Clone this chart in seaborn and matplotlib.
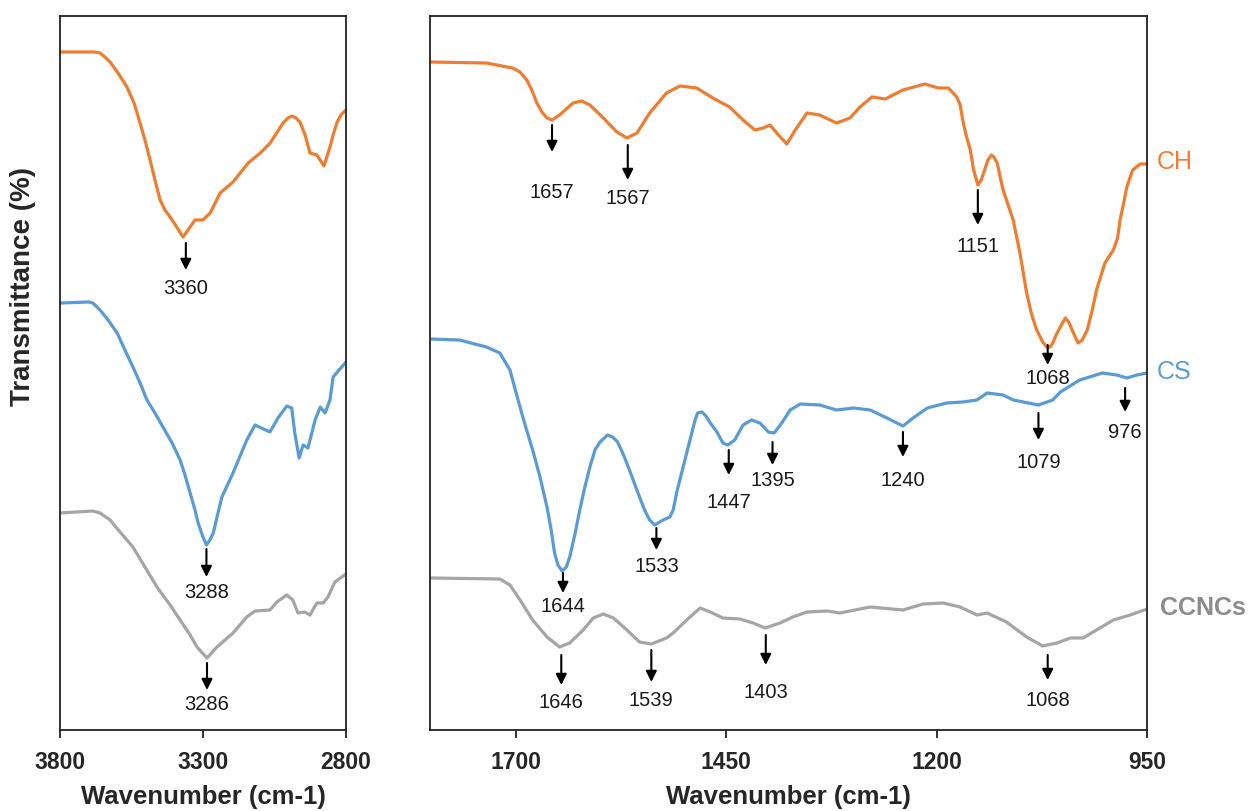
import numpy as np
import pandas as pd
import matplotlib
matplotlib.use("Agg")
import matplotlib.pyplot as plt
import seaborn as sns

# ---------------- data ----------------
# Left panel (O-H / N-H region): wavenumber (cm-1) and transmittance (a.u., stacked offsets)
ch_hi_wn = [3800, 3678, 3660, 3643, 3625, 3597, 3566, 3541, 3520, 3503, 3485, 3468, 3450, 3433,
            3415, 3392, 3370, 3345, 3328, 3300, 3275, 3240, 3195, 3142, 3100, 3065, 3020, 3003,
            2989, 2975, 2961, 2943, 2926, 2902, 2877, 2856, 2845, 2832, 2818, 2800]
ch_hi_t = [678, 678, 677, 673, 668, 657, 643, 627, 607, 590, 570, 550, 530, 520,
           513, 503, 493, 503, 510, 510, 517, 537, 548, 567, 577, 587, 607, 612,
           614, 612, 608, 595, 577, 575, 564, 583, 595, 607, 615, 620]

cs_hi_wn = [3800, 3700, 3685, 3660, 3632, 3600, 3573, 3545, 3520, 3496, 3468, 3440, 3408, 3380,
            3363, 3345, 3328, 3317, 3300, 3288, 3276, 3264, 3251, 3234, 3195, 3147, 3118, 3066,
            3038, 3007, 2990, 2979, 2964, 2950, 2933, 2908, 2890, 2873, 2856, 2845, 2800]
cs_hi_t = [427, 428, 427, 420, 410, 397, 380, 363, 347, 330, 317, 303, 287, 270,
           255, 237, 220, 207, 193, 185, 190, 197, 213, 233, 257, 290, 305, 298,
           312, 324, 322, 297, 272, 285, 282, 310, 323, 317, 330, 353, 368]

cc_hi_wn = [3800, 3685, 3660, 3625, 3590, 3545, 3503, 3461, 3415, 3380, 3345, 3321, 3286, 3251,
            3195, 3147, 3118, 3066, 3042, 3007, 2986, 2968, 2944, 2926, 2902, 2880, 2863, 2839, 2800]
cc_hi_t = [217, 219, 217, 210, 198, 183, 163, 143, 125, 110, 95, 83, 72, 83,
           97, 113, 119, 120, 128, 135, 130, 117, 118, 115, 127, 127, 133, 148, 156]

# Right panel (fingerprint region)
ch_lo_wn = [1802, 1735, 1704, 1695, 1687, 1681, 1675, 1669, 1663, 1657, 1648, 1632, 1622, 1612,
            1596, 1580, 1568, 1556, 1541, 1521, 1505, 1485, 1466, 1446, 1430, 1416, 1406, 1398,
            1388, 1378, 1368, 1354, 1339, 1319, 1303, 1291, 1277, 1261, 1240, 1214, 1198, 1186,
            1176, 1172, 1169, 1165, 1160, 1156, 1151, 1147, 1143, 1139, 1135, 1132, 1128, 1125,
            1121, 1115, 1109, 1101, 1093, 1087, 1081, 1074, 1069, 1065, 1062, 1058, 1053, 1047,
            1043, 1039, 1032, 1027, 1021, 1015, 1010, 1000, 990, 985, 982, 977, 974, 967, 958, 950]
ch_lo_t = [668, 667, 662, 658, 650, 640, 627, 618, 612, 610, 615, 627, 629, 625,
           612, 598, 592, 597, 617, 637, 644, 642, 632, 623, 610, 600, 602, 605,
           595, 586, 600, 617, 615, 607, 612, 623, 633, 631, 640, 646, 642, 642,
           633, 625, 610, 595, 580, 560, 545, 550, 560, 570, 575, 573, 567, 555,
           540, 525, 510, 477, 437, 415, 400, 388, 383, 383, 387, 395, 403, 412,
           408, 400, 387, 390, 400, 420, 440, 467, 480, 492, 510, 530, 543, 560, 566, 566]

cs_lo_wn = [1802, 1767, 1735, 1719, 1707, 1698, 1689, 1680, 1671, 1663, 1658, 1654, 1650, 1645,
            1640, 1636, 1630, 1624, 1618, 1612, 1606, 1600, 1591, 1585, 1579, 1572, 1565, 1553,
            1547, 1541, 1535, 1525, 1517, 1513, 1509, 1503, 1497, 1487, 1484, 1479, 1474, 1469,
            1461, 1454, 1448, 1440, 1430, 1420, 1410, 1400, 1393, 1384, 1374, 1362, 1339, 1319,
            1299, 1279, 1259, 1240, 1228, 1211, 1188, 1169, 1152, 1140, 1121, 1109, 1079, 1062,
            1053, 1030, 1003, 986, 974, 962, 950]
cs_lo_t = [391, 390, 383, 377, 360, 332, 305, 280, 252, 223, 200, 177, 165, 159,
           163, 173, 195, 220, 243, 263, 280, 288, 295, 293, 288, 275, 260, 233,
           220, 210, 205, 210, 213, 220, 237, 257, 277, 310, 317, 318, 314, 307,
           298, 287, 285, 290, 305, 310, 307, 298, 297, 307, 320, 326, 325, 320,
           322, 320, 312, 304, 312, 322, 327, 328, 330, 337, 335, 330, 325, 330,
           338, 350, 357, 355, 352, 355, 357]

cc_lo_wn = [1802, 1719, 1707, 1695, 1680, 1663, 1648, 1636, 1620, 1608, 1596, 1584, 1568, 1553,
            1539, 1521, 1513, 1497, 1481, 1469, 1454, 1434, 1418, 1404, 1386, 1371, 1354, 1330,
            1315, 1279, 1240, 1216, 1192, 1172, 1152, 1140, 1117, 1093, 1074, 1057, 1041, 1026,
            1010, 990, 970, 950]
cc_lo_t = [152, 151, 145, 130, 110, 93, 83, 87, 100, 112, 116, 112, 100, 88,
           86, 92, 97, 110, 122, 118, 112, 111, 107, 102, 107, 113, 118, 119,
           117, 123, 120, 126, 127, 123, 115, 117, 108, 93, 84, 87, 92, 92,
           100, 110, 115, 121]

samples = ["CH", "CS", "CCNCs"]
colors = ["#ED7D31", "#5B9BD5", "#A5A5A5"]

# Peak annotations: panel, wavenumber label, arrow top, arrow bottom, label centre (data units)
peak_panel = ["hi", "hi", "hi",
              "lo", "lo", "lo", "lo",
              "lo", "lo", "lo", "lo", "lo", "lo", "lo",
              "lo", "lo", "lo", "lo"]
peak_wn = [3360, 3288, 3286,
           1657, 1567, 1151, 1068,
           1644, 1533, 1447, 1395, 1240, 1079, 976,
           1646, 1539, 1403, 1068]
peak_top = [487, 181, 67,
            605, 585, 540, 385,
            157, 202, 280, 288, 298, 317, 342,
            75, 80, 95, 75]
peak_bot = [460, 153, 40,
            578, 550, 505, 365,
            137, 180, 255, 265, 273, 290, 318,
            45, 48, 65, 50]
peak_lab = [442, 137, 25,
            538, 532, 483, 352,
            123, 163, 228, 250, 250, 268, 298,
            28, 30, 37, 30]

hi_ticks = [3800, 3300, 2800]
lo_ticks = [1700, 1450, 1200, 950]

# ---------------- build tables ----------------
def long_df(parts):
    frames = []
    for name, wn, t in parts:
        frames.append(pd.DataFrame({"wn": wn, "T": t, "sample": name}))
    return pd.concat(frames, ignore_index=True)

df_hi = long_df([("CH", ch_hi_wn, ch_hi_t), ("CS", cs_hi_wn, cs_hi_t), ("CCNCs", cc_hi_wn, cc_hi_t)])
df_lo = long_df([("CH", ch_lo_wn, ch_lo_t), ("CS", cs_lo_wn, cs_lo_t), ("CCNCs", cc_lo_wn, cc_lo_t)])

# ---------------- figure ----------------
sns.set_style("white")
plt.rcParams["font.family"] = ["Liberation Sans", "DejaVu Sans"]

W, H = 1252, 811
fig = plt.figure(figsize=(W / 100, H / 100), dpi=100)

def px_axes(x0, y0, x1, y1):
    return fig.add_axes([x0 / W, 1 - y1 / H, (x1 - x0) / W, (y1 - y0) / H])

ax1 = px_axes(60, 16, 346, 730)
ax2 = px_axes(430, 16, 1147, 730)

pal = dict(zip(samples, colors))
for ax, df in [(ax1, df_hi), (ax2, df_lo)]:
    sns.lineplot(data=df, x="wn", y="T", hue="sample", palette=pal, hue_order=samples,
                 estimator=None, linewidth=2.3, legend=False, ax=ax)
    for ln in ax.get_lines():
        ln.set_solid_joinstyle("round")
        ln.set_solid_capstyle("round")

ax1.set_xlim(3800, 2800)
ax2.set_xlim(1802, 950)
for ax, ticks in [(ax1, hi_ticks), (ax2, lo_ticks)]:
    ax.set_ylim(0, 714)
    ax.set_yticks([])
    ax.set_xticks(ticks)
    ax.set_xticklabels([str(t) for t in ticks], fontsize=16.5, fontweight="bold")
    ax.tick_params(axis="x", direction="out", length=6, width=1.3, color="#222222", pad=9,
                   bottom=True)
    for s in ax.spines.values():
        s.set_visible(True)
        s.set_color("#222222")
        s.set_linewidth(1.3)
    ax.set_xlabel("Wavenumber (cm-1)", fontsize=18.5, fontweight="bold", labelpad=8)
    ax.set_ylabel("")

# peak arrows and labels
for panel, wn, top, bot, lab in zip(peak_panel, peak_wn, peak_top, peak_bot, peak_lab):
    ax = ax1 if panel == "hi" else ax2
    ax.annotate("", xy=(wn, bot), xytext=(wn, top),
                arrowprops=dict(arrowstyle="-|>", color="black", lw=1.5,
                                mutation_scale=16, shrinkA=0, shrinkB=0))
    ax.text(wn, lab, str(wn), ha="center", va="center", fontsize=14.5, color="#1a1a1a")

# sample labels at right end
ax2.annotate("CH", xy=(1.013, 568), xycoords=("axes fraction", "data"),
             ha="left", va="center", fontsize=18, color=colors[0])
ax2.annotate("CS", xy=(1.013, 358), xycoords=("axes fraction", "data"),
             ha="left", va="center", fontsize=18, color=colors[1])
ax2.annotate("CCNCs", xy=(1.018, 122), xycoords=("axes fraction", "data"),
             ha="left", va="center", fontsize=18, fontweight="bold", color="#8c8c8c")

fig.text(23 / W, 1 - 287 / H, "Transmittance (%)", rotation=90, ha="center", va="center",
         fontsize=20, fontweight="bold")

fig.savefig("out.png", dpi=100)
